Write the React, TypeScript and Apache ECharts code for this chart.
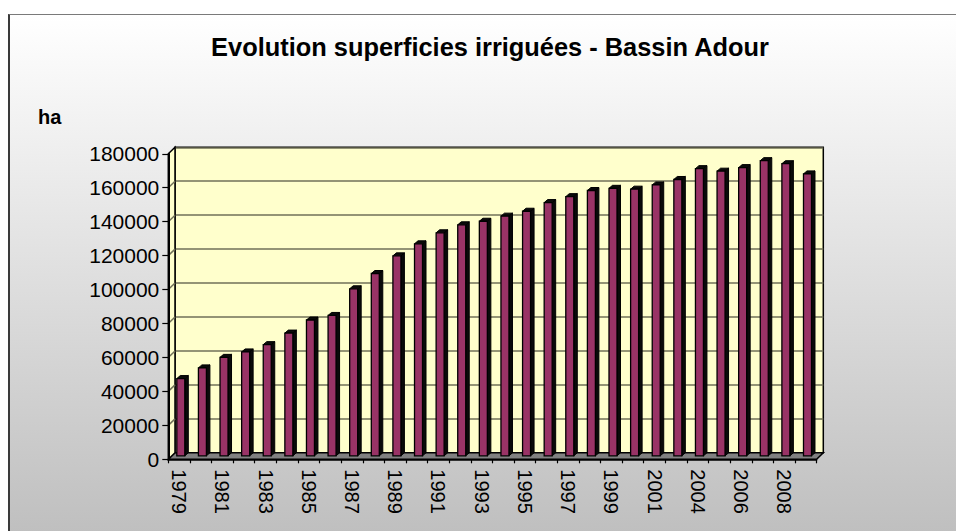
import React, { useEffect, useRef } from "react";
import * as echarts from "echarts";

const categories = [
  "1979", "1980", "1981", "1982", "1983", "1984", "1985", "1986", "1987", "1988",
  "1989", "1990", "1991", "1992", "1993", "1994", "1995", "1996", "1997", "1998",
  "1999", "2000", "2001", "2003", "2004", "2005", "2006", "2007", "2008", "2009",
];
const surfaces = [
  45500, 51800, 58000, 61200, 65500, 72300, 80000, 82700, 98400, 107400,
  117800, 124900, 131400, 136100, 138200, 141200, 144100, 149200, 152700, 156300,
  157600, 157100, 159600, 162800, 169200, 167700, 169800, 173900, 172100, 166100,
];
const yTicks = [0, 20000, 40000, 60000, 80000, 100000, 120000, 140000, 160000, 180000];
const titleText = "Evolution superficies irriguées - Bassin Adour";
const unitText = "ha";

const FONT = '"Liberation Sans", Arial, sans-serif';
const DX = 6.7; // back wall is to the right of the front plane
const DY = 6.5; // back wall is above the front plane
const GRID_COLOR = "#707058";

export default function App() {
  const ref = useRef<HTMLDivElement>(null);

  useEffect(() => {
    if (!ref.current) return;
    const chart = echarts.init(ref.current, null, { renderer: "svg" });
    const yMin = yTicks[0];
    const yMax = yTicks[yTicks.length - 1];
    const yStep = yTicks[1] - yTicks[0];
    const n = categories.length;

    const option: any = {
      animation: false,
      backgroundColor: "transparent",
      graphic: [
        {
          type: "text",
          x: 490,
          y: 46.5,
          style: {
            text: titleText,
            font: `bold 25.4px ${FONT}`,
            fill: "#000",
            align: "center",
            verticalAlign: "middle",
            textAlign: "center",
            textVerticalAlign: "middle",
          },
        },
        {
          type: "text",
          x: 38,
          y: 117,
          style: {
            text: unitText,
            font: `bold 20px ${FONT}`,
            fill: "#000",
            align: "left",
            verticalAlign: "middle",
            textAlign: "left",
            textVerticalAlign: "middle",
          },
        },
      ],
      grid: [
        { left: 168.3, top: 153.8, width: 648.3, height: 305.5 },
        {
          left: 175,
          top: 147.3,
          width: 648.3,
          height: 305.5,
          show: true,
          backgroundColor: "#FFFFCC",
          borderColor: "#000",
          borderWidth: 1.5,
        },
      ],
      xAxis: [
        {
          type: "category",
          gridIndex: 0,
          data: categories,
          z: 5,
          axisLine: { show: true, lineStyle: { color: "#000", width: 1.5 } },
          axisTick: { show: true, length: 4, interval: 0, lineStyle: { color: "#000", width: 1.2 } },
          axisLabel: {
            interval: 1,
            rotate: -90,
            margin: 10,
            color: "#000",
            fontSize: 20,
            fontFamily: FONT,
          },
          splitLine: { show: false },
        },
        {
          type: "category",
          gridIndex: 1,
          data: categories,
          show: false,
        },
      ],
      yAxis: [
        {
          type: "value",
          gridIndex: 0,
          min: yMin,
          max: yMax,
          interval: yStep,
          z: 5,
          axisLine: { show: true, lineStyle: { color: "#000", width: 2 } },
          axisTick: { show: true, length: 6, lineStyle: { color: "#000", width: 1.2 } },
          axisLabel: {
            margin: 9,
            color: "#000",
            fontSize: 21,
            fontFamily: FONT,
            formatter: (v: number) => String(v),
          },
          splitLine: { show: false },
        },
        {
          type: "value",
          gridIndex: 1,
          min: yMin,
          max: yMax,
          interval: yStep,
          axisLine: { show: false },
          axisTick: { show: false },
          axisLabel: { show: false },
          splitLine: { show: true, lineStyle: { color: GRID_COLOR, width: 1.5 } },
        },
      ],
      series: [
        {
          type: "custom",
          name: "frame",
          xAxisIndex: 1,
          yAxisIndex: 1,
          z: 1,
          silent: true,
          data: [[0, 0]],
          renderItem: (params: any, api: any) => {
            const p0 = api.coord([0, yMin]);
            const pN = api.coord([n - 1, yMax]);
            const bw = api.size([1, 0])[0];
            const left = p0[0] - bw / 2;
            const right = pN[0] + bw / 2;
            const bottom = p0[1];
            const top = pN[1];
            const children: any[] = [
              {
                type: "polygon",
                shape: {
                  points: [
                    [left, bottom],
                    [right, bottom],
                    [right - DX, bottom + DY],
                    [left - DX, bottom + DY],
                  ],
                },
                style: { fill: "#808080", stroke: "#000", lineWidth: 1.5 },
              },
              {
                type: "polygon",
                shape: {
                  points: [
                    [left, bottom],
                    [left, top],
                    [left - DX, top + DY],
                    [left - DX, bottom + DY],
                  ],
                },
                style: { fill: "#FFFFCC", stroke: "#000", lineWidth: 1.5 },
              },
            ];
            yTicks.slice(1, -1).forEach((v) => {
              const y = api.coord([0, v])[1];
              children.push({
                type: "line",
                shape: { x1: left, y1: y, x2: left - DX, y2: y + DY },
                style: { stroke: GRID_COLOR, lineWidth: 1.5 },
              });
            });
            return { type: "group", children };
          },
        },
        {
          type: "custom",
          name: "ha",
          xAxisIndex: 1,
          yAxisIndex: 1,
          z: 3,
          data: surfaces.map((v, i) => [i, v]),
          encode: { x: 0, y: 1 },
          renderItem: (params: any, api: any) => {
            const i = api.value(0);
            const v = api.value(1);
            const pt = api.coord([i, v]);
            const base = api.coord([i, 0]);
            const cx = pt[0];
            const top = pt[1];
            const zero = base[1];
            const fl = cx - 9;
            const fr = cx - 1;
            const bl = fl + 3.5;
            const br = fr + 3.5;
            const off = 3;
            return {
              type: "group",
              children: [
                {
                  type: "polygon",
                  shape: {
                    points: [
                      [fr, top + off],
                      [br, top],
                      [br, zero],
                      [fr, zero + off],
                    ],
                  },
                  style: { fill: "#0a0a0a", stroke: "#000", lineWidth: 1 },
                },
                {
                  type: "polygon",
                  shape: {
                    points: [
                      [fl, top + off],
                      [bl, top],
                      [br, top],
                      [fr, top + off],
                    ],
                  },
                  style: { fill: "#0a0a0a", stroke: "#000", lineWidth: 1 },
                },
                {
                  type: "rect",
                  shape: { x: fl, y: top + off, width: fr - fl, height: zero - top },
                  style: { fill: "#993366", stroke: "#000", lineWidth: 1.3 },
                },
              ],
            };
          },
        },
      ],
    };

    chart.setOption(option);
    return () => {
      chart.dispose();
    };
  }, []);

  return (
    <div
      style={{
        position: "fixed",
        left: 0,
        top: 0,
        width: 956,
        height: 531,
        overflow: "hidden",
        background: "#ffffff",
      }}
    >
      <div
        style={{
          position: "absolute",
          left: 8,
          top: 14,
          width: 1000,
          height: 560,
          boxSizing: "border-box",
          borderLeft: "2px solid #3a3a3a",
          borderTop: "1.5px solid #7a7a7a",
          background: "linear-gradient(#ffffff, #bababa)",
        }}
      />
      <div
        ref={ref}
        style={{ position: "absolute", left: 0, top: 0, width: 956, height: 531 }}
      />
    </div>
  );
}
